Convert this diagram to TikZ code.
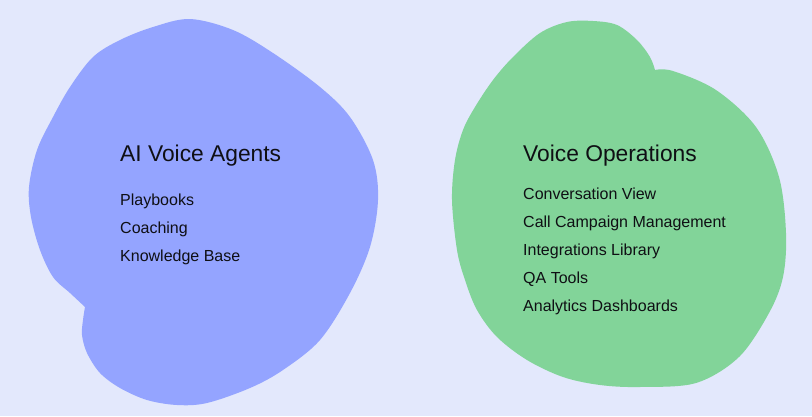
\documentclass[tikz,border=0pt]{standalone}
\usepackage{fontspec}
\setmainfont{Liberation Sans}
\definecolor{bgc}{RGB}{227,232,252}
\definecolor{blobblue}{RGB}{148,164,255}
\definecolor{blobgreen}{RGB}{130,212,153}
\definecolor{ink}{RGB}{15,15,20}
\tikzset{
  ttl/.style={anchor=base west,inner sep=0pt,text=ink,font=\fontsize{22.8}{26}\selectfont},
  itm/.style={anchor=base west,inner sep=0pt,text=ink,font=\fontsize{16}{19}\selectfont},
}
\begin{document}
\begin{tikzpicture}[x=1pt,y=-1pt]
\fill[bgc] (0,0) rectangle (812,416);
\useasboundingbox (0,0) rectangle (812,416);
% blue blob
\fill[blobblue] plot[smooth,tension=0.55] coordinates {(85,307) (83,320) (82,335) (87,353) (100,373) (120,388) (147,400) (177,405) (207,403) (250,388) (283,370) (320,340) (350,293) (370,247) (378,200) (373,160) (350,117) (320,87) (273,53) (233,30) (190,19) (153,27) (120,40) (93,57) (70,87) (53,117) (37,150) (29,187) (31,217) (40,250) (53,277) (70,293) (85,307)} -- cycle;
% green blob
\fill[blobgreen] plot[smooth,tension=0.55] coordinates {(655,70) (673,71) (716,90) (756,127) (779,177) (786,233) (783,277) (769,313) (739,357) (696,383) (640,387) (600,385) (563,377) (527,360) (497,337) (477,310) (465,280) (457,250) (452,200) (455,160) (463,130) (475,107) (493,80) (513,57) (540,33) (567,22) (593,21) (617,25) (637,40) (650,57) (655,70)} -- cycle;
% texts
\node[ttl] (t1) at (120,161) {AI Voice Agents};
\node[itm] (a1) at (120,205) {Playbooks};
\node[itm] (a2) at (120,233) {Coaching};
\node[itm] (a3) at (120,261) {Knowledge Base};
\node[ttl] (t2) at (523,161) {Voice Operations};
\node[itm] (b1) at (523,199) {Conversation View};
\node[itm] (b2) at (523,227) {Call Campaign Management};
\node[itm] (b3) at (523,255) {Integrations Library};
\node[itm] (b4) at (523,283) {QA Tools};
\node[itm] (b5) at (523,311) {Analytics Dashboards};
\end{tikzpicture}
\end{document}
